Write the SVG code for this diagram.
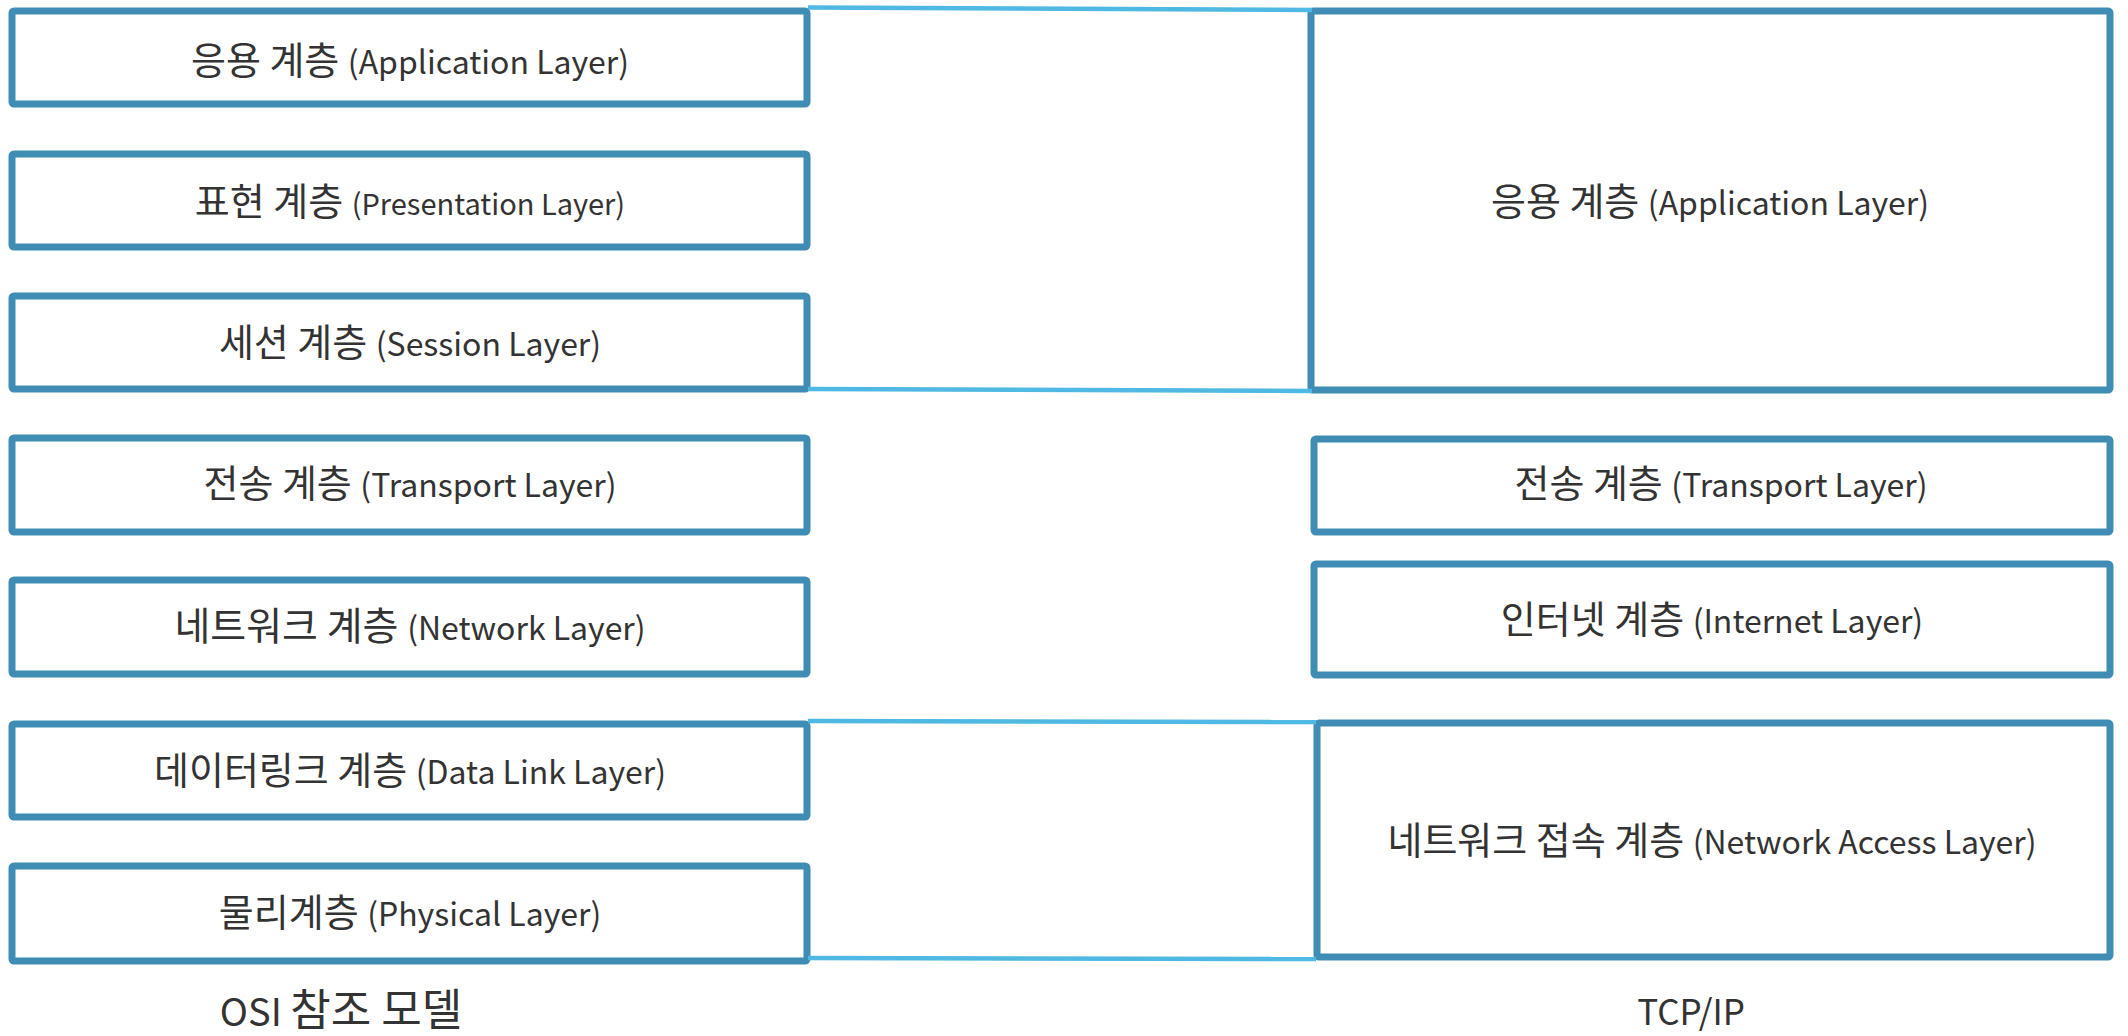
<svg xmlns="http://www.w3.org/2000/svg" width="2128" height="1036" viewBox="0 0 2128 1036">
<style>
.box{fill:#fff;stroke:#3f8db4;stroke-width:7}
.con{stroke:#4fb8e3;stroke-width:4.5;fill:none}
text{font-family:"Noto Sans CJK KR","Noto Sans",sans-serif;fill:#333;text-anchor:middle}
.ko{font-size:38px}
.en{font-size:32px}
.pr{font-size:29px}
.capk{font-size:44px}
.cape{font-size:38px}
</style>
<rect width="2128" height="1036" fill="#fff"/>
<g id="osi-application"><rect class="box" x="12" y="11" width="795" height="93" rx="2"/><text x="410" y="74"><tspan class="ko">응용 계층 </tspan><tspan class="en">(Application Layer)</tspan></text></g>
<g id="osi-presentation"><rect class="box" x="12" y="154" width="795" height="93" rx="2"/><text x="410" y="215"><tspan class="ko">표현 계층 </tspan><tspan class="pr">(Presentation Layer)</tspan></text></g>
<g id="osi-session"><rect class="box" x="12" y="296" width="795" height="93" rx="2"/><text x="410" y="356"><tspan class="ko">세션 계층 </tspan><tspan class="en">(Session Layer)</tspan></text></g>
<g id="osi-transport"><rect class="box" x="12" y="438" width="795" height="94" rx="2"/><text x="410" y="497"><tspan class="ko">전송 계층 </tspan><tspan class="en">(Transport Layer)</tspan></text></g>
<g id="osi-network"><rect class="box" x="12" y="580" width="795" height="94" rx="2"/><text x="410" y="640"><tspan class="ko" style="font-size:39px">네트워크 계층 </tspan><tspan class="en">(Network Layer)</tspan></text></g>
<g id="osi-datalink"><rect class="box" x="12" y="724" width="795" height="93" rx="2"/><text x="410" y="784"><tspan class="ko">데이터링크 계층 </tspan><tspan class="en">(Data Link Layer)</tspan></text></g>
<g id="osi-physical"><rect class="box" x="12" y="866" width="795" height="95" rx="2"/><text x="410" y="926"><tspan class="ko">물리계층 </tspan><tspan class="en">(Physical Layer)</tspan></text></g>
<g id="osi-caption"><text x="341" y="1026"><tspan class="cape">OSI </tspan><tspan class="capk">참조 모델</tspan></text></g>
<g id="tcp-application"><rect class="box" x="1311" y="11" width="799" height="379" rx="2"/><text x="1710" y="215"><tspan class="ko">응용 계층 </tspan><tspan class="en">(Application Layer)</tspan></text></g>
<g id="tcp-transport"><rect class="box" x="1314" y="439" width="796" height="93" rx="2"/><text x="1721" y="497"><tspan class="ko">전송 계층 </tspan><tspan class="en">(Transport Layer)</tspan></text></g>
<g id="tcp-internet"><rect class="box" x="1314" y="564" width="796" height="111" rx="2"/><text x="1712" y="633"><tspan class="ko">인터넷 계층 </tspan><tspan class="en">(Internet Layer)</tspan></text></g>
<g id="tcp-network-access"><rect class="box" x="1317" y="723" width="793" height="234" rx="2"/><text x="1712" y="854"><tspan class="ko">네트워크 접속 계층 </tspan><tspan class="en">(Network Access Layer)</tspan></text></g>
<g id="tcp-caption"><text class="cape" x="1691" y="1025" style="font-size:35px">TCP/IP</text></g>
<g id="connectors">
<line class="con" x1="808" y1="7.5" x2="1312" y2="10"/>
<line class="con" x1="808" y1="389" x2="1312" y2="391"/>
<line class="con" x1="808" y1="721" x2="1316" y2="722"/>
<line class="con" x1="808" y1="958" x2="1316" y2="959"/>
</g>
</svg>
